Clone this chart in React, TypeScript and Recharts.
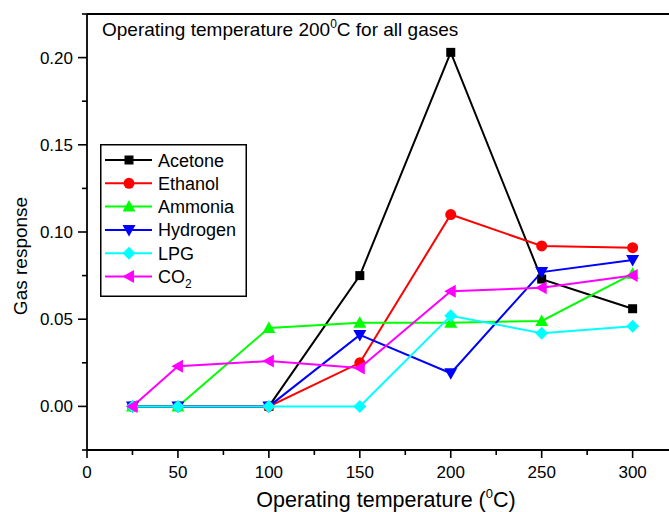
import { LineChart, Line, XAxis, YAxis, ReferenceLine, Customized } from 'recharts';

const temperatures = [25, 50, 100, 150, 200, 250, 300];
const acetone = [0, 0, 0, 0.075, 0.203, 0.073, 0.056];
const ethanol = [0, 0, 0, 0.025, 0.110, 0.092, 0.091];
const ammonia = [0, 0, 0.045, 0.048, 0.048, 0.049, 0.076];
const hydrogen = [0, 0, 0, 0.041, 0.019, 0.077, 0.084];
const lpg = [0, 0, 0, 0, 0.052, 0.042, 0.046];
const co2 = [0, 0.023, 0.026, 0.022, 0.066, 0.068, 0.075];

const xTicks = [0, 25, 50, 75, 100, 125, 150, 175, 200, 225, 250, 275, 300];
const yTicks = [-0.025, 0, 0.025, 0.05, 0.075, 0.1, 0.125, 0.15, 0.175, 0.2, 0.225];

const series = [
    { key: 'acetone', name: 'Acetone', color: '#000000', shape: 'square', values: acetone },
    { key: 'ethanol', name: 'Ethanol', color: '#ff0000', shape: 'circle', values: ethanol },
    { key: 'ammonia', name: 'Ammonia', color: '#00ff00', shape: 'up', values: ammonia },
    { key: 'hydrogen', name: 'Hydrogen', color: '#0000ff', shape: 'down', values: hydrogen },
    { key: 'lpg', name: 'LPG', color: '#00ffff', shape: 'diamond', values: lpg },
    { key: 'co2', name: 'CO2', color: '#ff00ff', shape: 'left', values: co2 },
];

const data = temperatures.map((t, i) => {
    const row: Record<string, number> = { temp: t };
    series.forEach(s => { row[s.key] = s.values[i]; });
    return row;
});

const FONT = '"Liberation Sans", Arial, sans-serif';

function Marker({ shape, cx, cy, color }: { shape: string; cx: number; cy: number; color: string }) {
    const r = 6.5;
    switch (shape) {
        case 'square':
            return <rect x={cx - 4.5} y={cy - 4.5} width={9} height={9} fill={color} />;
        case 'circle':
            return <circle cx={cx} cy={cy} r={5.5} fill={color} />;
        case 'up':
            return <polygon points={`${cx},${cy - r} ${cx + r},${cy + 5} ${cx - r},${cy + 5}`} fill={color} />;
        case 'down':
            return <polygon points={`${cx},${cy + r} ${cx + r},${cy - 5} ${cx - r},${cy - 5}`} fill={color} />;
        case 'left':
            return <polygon points={`${cx - r},${cy} ${cx + 5},${cy - r} ${cx + 5},${cy + r}`} fill={color} />;
        default:
            return <polygon points={`${cx},${cy - r} ${cx + r},${cy} ${cx},${cy + r} ${cx - r},${cy}`} fill={color} />;
    }
}

const XTick = ({ x, y, payload }: any) => {
    const v = payload.value;
    const major = v % 50 === 0;
    return (
        <g>
            <line x1={x} x2={x} y1={y} y2={y + (major ? 8 : 5)} stroke="#000" strokeWidth={1.6} />
            {major && <text x={x} y={y + 28} textAnchor="middle" fontSize={17} fontFamily={FONT} fill="#000">{v}</text>}
        </g>
    );
};

const YTick = ({ x, y, payload }: any) => {
    const v = payload.value;
    const m = Math.round(v * 1000);
    const major = m % 50 === 0 && m >= 0 && m <= 200;
    return (
        <g>
            <line x1={x} x2={x - (major ? 9 : 5)} y1={y} y2={y} stroke="#000" strokeWidth={1.6} />
            {major && <text x={x - 14} y={y + 6} textAnchor="end" fontSize={17} fontFamily={FONT} fill="#000">{v.toFixed(2)}</text>}
        </g>
    );
};

// legend box drawn inside the plot, top-left
const LegendBox = () => (
    <g transform="translate(100,144)">
        <rect x={0.75} y={0.75} width={145.5} height={151.5} fill="#fff" stroke="#000" strokeWidth={1.5} />
        {series.map((s, i) => {
            const cy = 16 + i * 23.3;
            return (
                <g key={s.key}>
                    <line x1={5} x2={52} y1={cy} y2={cy} stroke={s.color} strokeWidth={2} />
                    <Marker shape={s.shape} cx={29} cy={cy} color={s.color} />
                    <text x={58} y={cy + 6.5} fontSize={18} fontFamily={FONT} fill="#000">
                        {s.key === 'co2' ? <>CO<tspan fontSize={12} dy={5}>2</tspan></> : s.name}
                    </text>
                </g>
            );
        })}
    </g>
);

const Annotations = () => (
    <g fontFamily={FONT} fill="#000">
        <text x={102} y={36} fontSize={19}>
            Operating temperature 200<tspan fontSize={12} dy={-8}>0</tspan><tspan dy={8}>C for all gases</tspan>
        </text>
        <text x={386} y={507} fontSize={21.5} textAnchor="middle">
            Operating temperature (<tspan fontSize={13} dy={-9}>0</tspan><tspan dy={9}>C)</tspan>
        </text>
        <text x={27} y={256} fontSize={19} textAnchor="middle" transform="rotate(-90 27 256)">Gas response</text>
    </g>
);

export default function App() {
    return (
        <div style={{ position: 'absolute', left: 0, top: 0, width: 669, height: 512, overflow: 'hidden', background: '#fff' }}>
            <LineChart width={700} height={512} data={data} margin={{ top: 14, right: 31, bottom: 0, left: 0 }}>
                <XAxis dataKey="temp" type="number" domain={[0, 320]} ticks={xTicks} interval={0}
                    height={62} tickSize={0} tickMargin={0} tickLine={false} tick={<XTick />}
                    axisLine={{ stroke: '#000', strokeWidth: 1.8 }} allowDataOverflow />
                <YAxis type="number" domain={[-0.025, 0.225]} ticks={yTicks} interval={0}
                    width={87} tickSize={0} tickMargin={0} tickLine={false} tick={<YTick />}
                    axisLine={{ stroke: '#000', strokeWidth: 1.8 }} allowDataOverflow />
                <ReferenceLine y={0.225} stroke="#000" strokeWidth={1.8} ifOverflow="visible" />
                {series.map(s => (
                    <Line key={s.key} type="linear" dataKey={s.key} name={s.name} stroke={s.color} strokeWidth={2}
                        isAnimationActive={false} activeDot={false}
                        dot={(p: any) => <Marker key={`${s.key}-${p.index}`} shape={s.shape} cx={p.cx} cy={p.cy} color={s.color} />} />
                ))}
                <Customized component={LegendBox} />
                <Customized component={Annotations} />
            </LineChart>
        </div>
    );
}
